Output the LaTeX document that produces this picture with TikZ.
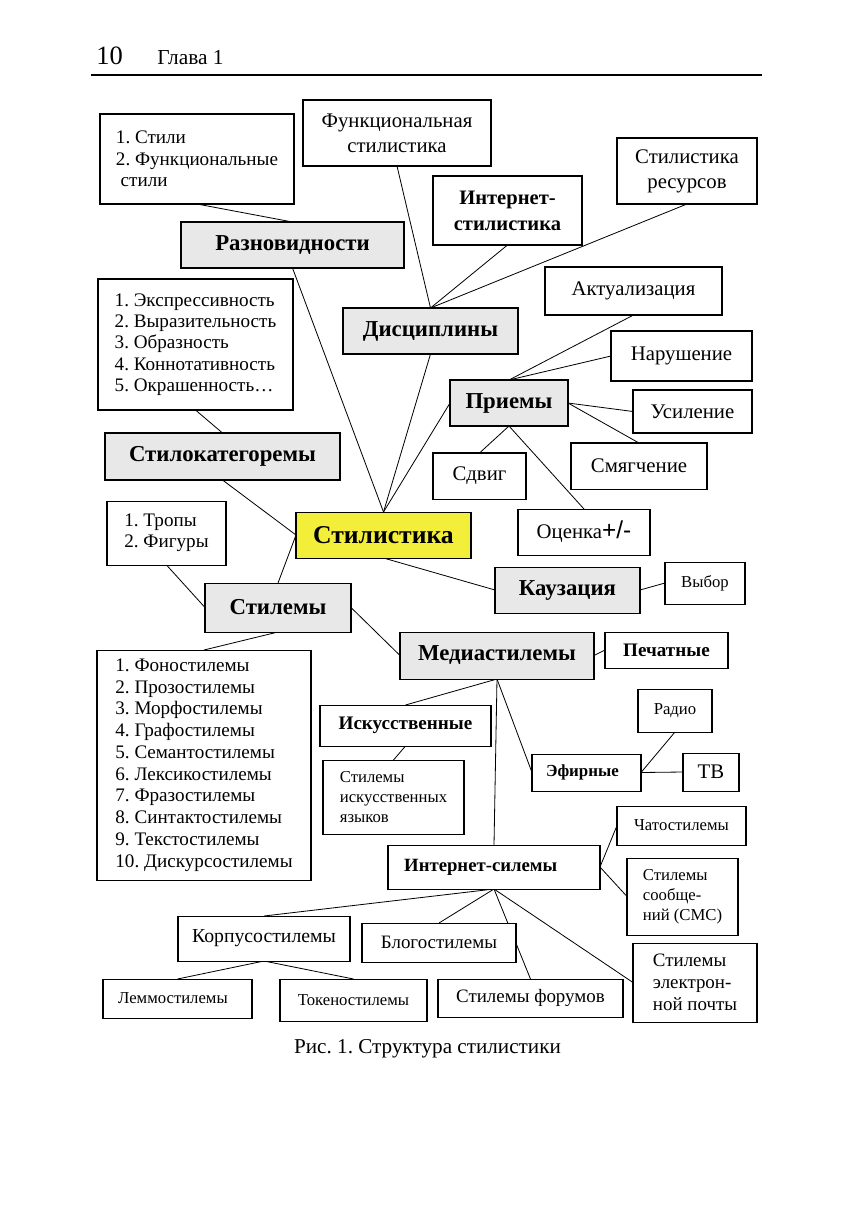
\documentclass[tikz,border=0pt]{standalone}
\usepackage{fontspec}
\setmainfont{Liberation Serif}
\newfontfamily\arialfont{Liberation Sans}
\usetikzlibrary{backgrounds}
\frenchspacing
\newlength{\pxu}
\setlength{\pxu}{0.1727mm}
\definecolor{catgray}{RGB}{232,232,232}
\definecolor{coreyellow}{RGB}{243,238,58}
\newcommand{\txtN}{\fontsize{10.2}{12.3}\selectfont}
\newcommand{\txtM}{\fontsize{9.3}{10.7}\selectfont}
\newcommand{\txtL}{\fontsize{9.4}{10.5}\selectfont}
\newcommand{\txtS}{\fontsize{8.2}{9.8}\selectfont}
\newcommand{\txtB}{\fontsize{11.2}{12.8}\selectfont\bfseries}
\newcommand{\txtSB}{\fontsize{9.4}{11}\selectfont\bfseries}
\newcommand{\txtEB}{\fontsize{8.3}{10}\selectfont\bfseries}
\newcommand{\txtBig}{\fontsize{12.6}{14}\selectfont\bfseries}

\begin{document}
\begin{tikzpicture}[
    x=0.1727mm, y=-0.1727mm,
    box/.style={rectangle, draw=black, fill=white, line width=0.5pt, inner sep=2pt, outer sep=0pt, align=center, font=\txtN},
    cat/.style={box, fill=catgray, font=\txtB},
    listbox/.style={box, align=left, font=\txtL},
    smallbox/.style={box, font=\txtS},
    sz/.style 2 args={minimum width=#1\pxu, minimum height=#2\pxu},
    link/.style={draw=black, line width=0.4pt}
]
    \useasboundingbox (0,0) rectangle (857,1211);
    \node[anchor=base west, inner sep=0, font=\fontsize{13}{15}\selectfont] (pagenum) at (96,64) {10};
    \node[anchor=base west, inner sep=0, font=\fontsize{10.5}{12}\selectfont] (chapter) at (157,64) {Глава 1};
    \draw[line width=0.6pt] (91,75) -- (762,75);

    \node[listbox, sz={194}{90}] (stili) at (197,159) {1. Стили\\2. Функциональные\\\hspace{0.25em}стили};
    \node[box, sz={188}{66}] (funk) at (397,133) {Функциональная\\стилистика};
    \node[box, font=\fontsize{10.1}{12.8}\selectfont\bfseries, sz={149}{69}] (inetst) at (507.5,210.5) {Интернет-\\стилистика};
    \node[box, sz={140}{66}] (resurs) at (687,171) {Стилистика\\ресурсов};
    \node[cat, sz={223}{46}] (raznov) at (292.5,245) {Разновидности};
    \node[cat, sz={175}{46}] (discip) at (430.5,331) {Дисциплины};
    \node[box, sz={177}{48}] (aktual) at (633.5,291) {Актуализация};
    \node[box, sz={141}{50}] (narush) at (681.5,356) {Нарушение};
    \node[cat, sz={118}{46}] (priemy) at (509,403) {Приемы};
    \node[box, sz={119}{43}] (usil) at (692.5,411.5) {Усиление};
    \node[box, sz={136}{46}] (smyag) at (639,466) {Смягчение};
    \node[box, sz={93}{46}] (sdvig) at (479.5,476) {Сдвиг};
    \node[box, sz={132}{46}] (ocenka) at (584,532) {Оценка{\arialfont\fontsize{12}{14}\selectfont+/-}};
    \node[listbox, sz={195}{131}] (ekspr) at (195.5,344.5) {1. Экспрессивность\\2. Выразительность\\3. Образность\\4. Коннотативность\\5. Окрашенность…};
    \node[cat, sz={235}{47}] (stilokat) at (222.5,456.5) {Стилокатегоремы};
    \node[cat, fill=coreyellow, font=\txtBig, sz={175}{46}] (stilistika) at (383.5,535) {Стилистика};
    \node[listbox, sz={119}{64}] (tropy) at (166.5,533) {1. Тропы\\2. Фигуры};
    \node[cat, sz={146}{49}] (stilemy) at (278,607.5) {Стилемы};
    \node[cat, sz={145}{46}] (kauz) at (567.5,590) {Каузация};
    \node[smallbox, sz={80}{42}] (vybor) at (705,583) {Выбор};
    \node[cat, sz={194}{47}] (media) at (497,655.5) {Медиастилемы};
    \node[box, font=\txtSB, sz={123}{36}] (pechat) at (666.5,650) {Печатные};
    \node[listbox, font=\fontsize{9.4}{10.7}\selectfont, sz={214}{230}] (fono) at (204,765) {1. Фоностилемы\\2. Прозостилемы\\3. Морфостилемы\\4. Графостилемы\\5. Семантостилемы\\6. Лексикостилемы\\7. Фразостилемы\\8. Синтактостилемы\\9. Текстостилемы\\10. Дискурсостилемы};
    \node[box, font=\txtSB, sz={171}{41}] (iskus) at (405.5,725.5) {Искусственные};
    \node[smallbox, align=left, sz={141}{74}] (iskyaz) at (393.5,797) {Стилемы\\искусственных\\языков};
    \node[smallbox, sz={74}{43}] (radio) at (675,710.5) {Радио};
    \node[box, font=\txtEB, sz={109}{37}] (efir) at (586.5,772.5) {Эфирные\kern4pt};
    \node[box, sz={56}{38}] (tv) at (711,772) {ТВ};
    \node[smallbox, sz={129}{39}] (chat) at (681.5,825.5) {Чатостилемы};
    \node[box, font=\fontsize{9.2}{11}\selectfont\bfseries, sz={212}{44}] (inetsil) at (494,867) {Интернет-силемы\kern13pt};
    \node[smallbox, align=left, sz={111}{77}] (sms) at (682.5,896.5) {Стилемы\\сообще-\\ний (СМС)};
    \node[box, font=\fontsize{9.7}{11}\selectfont, sz={172}{45}] (korpus) at (264,938.5) {Корпусостилемы};
    \node[box, font=\txtM, sz={154}{39}] (blog) at (439,942.5) {Блогостилемы};
    \node[box, font=\txtM, align=left, sz={124}{79}] (email) at (695,982.5) {Стилемы\\электрон-\\ной почты};
    \node[smallbox, sz={149}{39}] (lemmo) at (177.5,998.5) {Леммостилемы\kern4.5pt};
    \node[smallbox, sz={147}{42}] (token) at (353.5,1000) {Токеностилемы};
    \node[box, font=\txtM, sz={185}{38}] (forum) at (530.5,998) {Стилемы форумов};
    \node[font=\fontsize{10.4}{12}\selectfont] (caption) at (427.5,1049) {Рис. 1. Структура стилистики};

    \begin{scope}[on background layer]
        \draw[link] (stili.south) -- (raznov.north);
        \draw[link] (raznov.south) -- (stilistika.north);
        \draw[link] (funk.south) -- (discip.north);
        \draw[link] (inetst.south) -- (discip.north);
        \draw[link] (resurs.south) -- (discip.north);
        \draw[link] (discip.south) -- (stilistika.north);
        \draw[link] (priemy.west) -- (stilistika.north);
        \draw[link] (aktual.south) -- (priemy.north);
        \draw[link] (narush.west) -- (priemy.north);
        \draw[link] (priemy.east) -- (usil.west);
        \draw[link] (priemy.east) -- (smyag.north);
        \draw[link] (priemy.south) -- (sdvig.north);
        \draw[link] (priemy.south) -- (ocenka.north);
        \draw[link] (ekspr.south) -- (stilokat.north);
        \draw[link] (stilokat.south) -- (stilistika.west);
        \draw[link] (stilistika.west) -- (stilemy.north);
        \draw[link] (tropy.south) -- (stilemy.west);
        \draw[link] (stilemy.south) -- (fono.north);
        \draw[link] (stilemy.east) -- (media.west);
        \draw[link] (stilistika.south) -- (kauz.west);
        \draw[link] (kauz.east) -- (vybor.west);
        \draw[link] (media.east) -- (pechat.west);
        \draw[link] (media.south) -- (iskus.north);
        \draw[link] (media.south) -- (inetsil.north);
        \draw[link] (media.south) -- (efir.west);
        \draw[link] (iskus.south) -- (iskyaz.north);
        \draw[link] (efir.east) -- (radio.south);
        \draw[link] (efir.east) -- (tv.west);
        \draw[link] (inetsil.east) -- (chat.west);
        \draw[link] (inetsil.east) -- (sms.west);
        \draw[link] (inetsil.south) -- (korpus.north);
        \draw[link] (inetsil.south) -- (blog.north);
        \draw[link] (inetsil.south) -- (forum.north);
        \draw[link] (inetsil.south) -- (email.west);
        \draw[link] (korpus.south) -- (lemmo.north);
        \draw[link] (korpus.south) -- (token.north);
    \end{scope}
\end{tikzpicture}
\end{document}
